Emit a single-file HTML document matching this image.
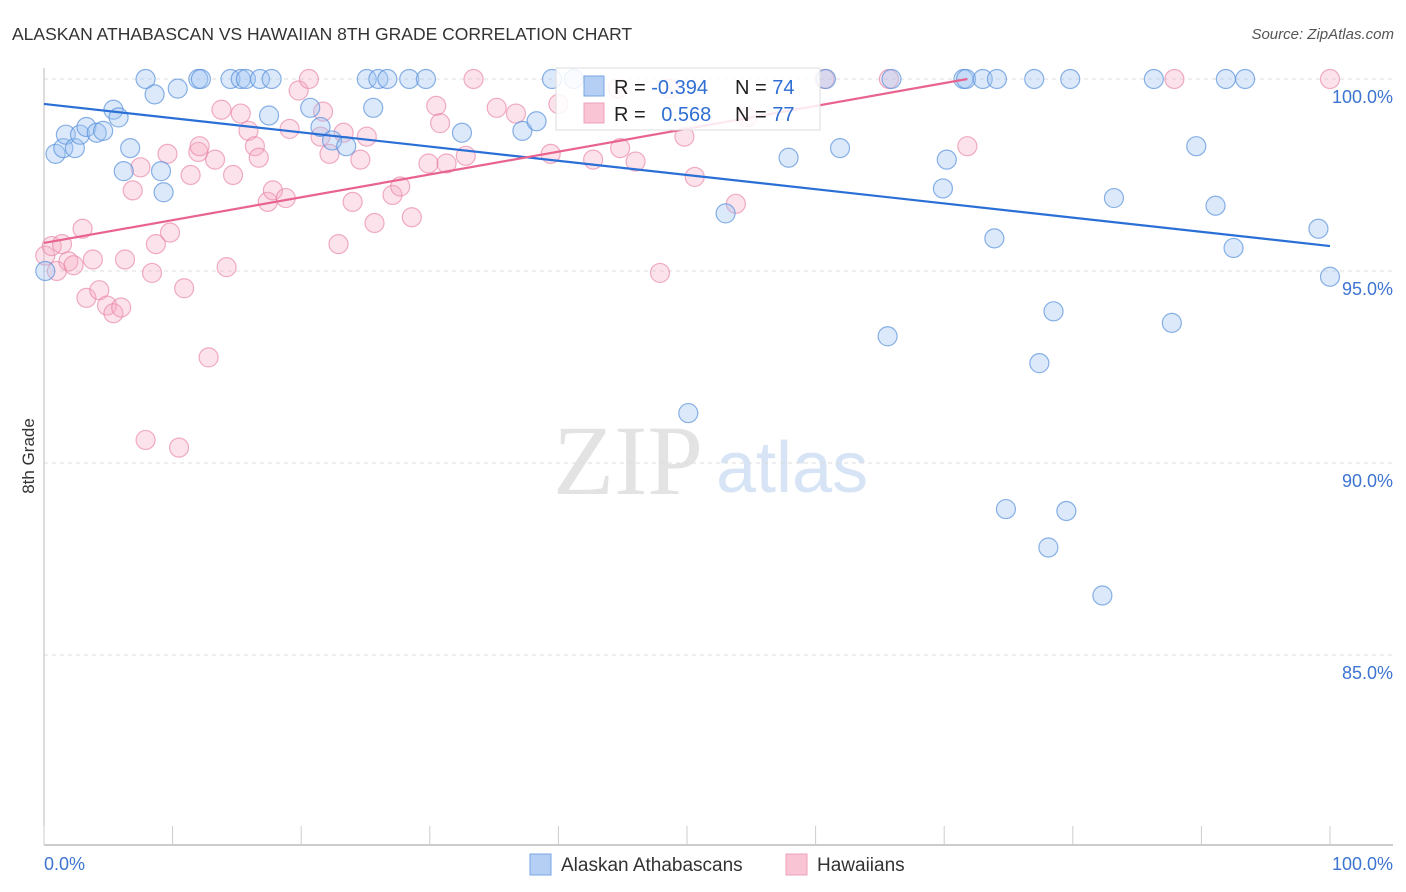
<!DOCTYPE html>
<html><head><meta charset="utf-8"><style>
body{margin:0;background:#fff;font-family:"Liberation Sans",sans-serif}
svg{display:block}
</style></head><body>
<svg id="chart" width="1406" height="892">
<text x="12" y="40" font-size="17.5" fill="#333">ALASKAN ATHABASCAN VS HAWAIIAN 8TH GRADE CORRELATION CHART</text>
<text x="1394" y="39" font-size="15" fill="#555" font-style="italic" text-anchor="end">Source: ZipAtlas.com</text>
<text x="34" y="456" font-size="17" fill="#333" text-anchor="middle" transform="rotate(-90 34 456)">8th Grade</text>
<g>
<text x="553" y="494" font-family="Liberation Serif,serif" font-size="100" fill="#e3e3e3">ZIP</text>
<text x="716" y="492" font-size="72" fill="#d6e4f5">atlas</text>
</g>
<g id="grid"></g><g id="axes"></g><g id="marks"></g>
<g>
<rect x="556" y="68" width="264" height="62" fill="#fff" fill-opacity="0.85" stroke="#ddd"/>
<rect x="584" y="76" width="20" height="20" fill="#b4cff3" stroke="#7aa6e4"/>
<rect x="584" y="103" width="20" height="20" fill="#f9c4d4" stroke="#eda1bb"/>
<text x="614" y="94" font-size="20" fill="#222">R = <tspan fill="#2f6ed3">-0.394</tspan></text>
<text x="735" y="94" font-size="20" fill="#222">N = <tspan fill="#2f6ed3">74</tspan></text>
<text x="614" y="121" font-size="20" fill="#222">R = <tspan fill="#2f6ed3" dx="10">0.568</tspan></text>
<text x="735" y="121" font-size="20" fill="#222">N = <tspan fill="#2f6ed3">77</tspan></text>
</g>
<g>
<rect x="530" y="854" width="21" height="21" fill="#b4cff3" stroke="#7aa6e4"/>
<text x="561" y="871" font-size="19" fill="#333">Alaskan Athabascans</text>
<rect x="786" y="854" width="21" height="21" fill="#f9c4d4" stroke="#eda1bb"/>
<text x="817" y="871" font-size="19" fill="#333">Hawaiians</text>
</g>
</svg>
<script>
const blueX=[0.1,0.9,1.5,1.7,2.4,2.8,3.3,4.1,4.6,5.4,5.8,6.2,6.7,7.9,8.6,9.1,9.3,10.4,12.0,12.2,14.5,15.3,15.7,16.8,17.7,17.5,20.7,21.5,22.4,23.5,25.1,26.0,26.7,25.6,28.4,29.7,32.5,37.2,38.3,39.5,41.2,53.0,57.9,60.8,61.9,65.6,69.9,70.2,71.5,71.7,73.0,74.1,73.9,77.0,78.5,79.8,77.4,83.2,86.3,87.7,89.6,91.1,91.9,92.5,93.4,99.1,100,50.1,74.8,79.5,78.1,82.3,65.9];
const blueY=[95.0,98.05,98.2,98.55,98.2,98.55,98.75,98.6,98.65,99.2,99.0,97.6,98.2,100,99.6,97.6,97.05,99.75,100,100,100,100,100,100,100,99.05,99.25,98.75,98.4,98.25,100,100,100,99.25,100,100,98.6,98.65,98.9,100,100,96.5,97.95,100,98.2,93.3,97.15,97.9,100,100,100,100,95.85,100,93.95,100,92.6,96.9,100,93.65,98.25,96.7,100,95.6,100,96.1,94.85,91.3,88.8,88.75,87.8,86.55,100];
const pinkX=[0.1,0.6,1.0,1.4,1.9,2.3,3.0,3.3,3.8,4.3,4.9,5.4,6.0,6.3,6.9,7.5,7.9,8.4,8.7,9.6,9.8,10.5,10.9,11.4,12.0,12.1,12.8,13.3,13.8,14.2,14.7,15.3,15.9,16.4,16.7,17.4,17.8,18.8,19.1,19.8,20.6,21.5,21.7,22.2,22.9,23.3,24.0,24.6,25.1,25.7,27.1,27.7,28.6,29.9,30.5,30.8,31.3,32.8,33.4,35.2,36.7,39.4,40.0,42.7,44.8,46.0,47.9,49.8,50.6,53.8,54.7,60.7,65.7,71.8,87.9,100,44.6,48.6];
const pinkY=[95.4,95.65,95.0,95.7,95.25,95.15,96.1,94.3,95.3,94.5,94.1,93.9,94.05,95.3,97.1,97.7,90.6,94.95,95.7,98.05,96.0,90.4,94.55,97.5,98.1,98.25,92.75,97.9,99.2,95.1,97.5,99.1,98.65,98.25,97.95,96.8,97.1,96.9,98.7,99.7,100,98.5,99.15,98.05,95.7,98.6,96.8,97.9,98.5,96.25,96.98,97.2,96.4,97.8,99.3,98.85,97.8,98.0,100,99.25,99.1,98.05,99.35,97.9,98.2,97.85,94.95,98.5,97.45,96.75,99.0,100,100,98.25,100,100,99.75,99.75];
const blueTrend=[[0,99.35],[100,95.65]];
const pinkTrend=[[0,95.73],[71.8,100]];
const yTicks=[100,95,90,85];
const yTickLabels=["100.0%","95.0%","90.0%","85.0%"];
const xTicks=[0,10,20,30,40,50,60,70,80,90,100];

const NS="http://www.w3.org/2000/svg";
const sx=v=>44+v*12.86;
const sy=v=>79+(100-v)*38.4;
function mk(tag,attrs,parent){const e=document.createElementNS(NS,tag);for(const k in attrs)e.setAttribute(k,attrs[k]);document.getElementById(parent).appendChild(e);return e;}

yTicks.forEach((t,i)=>{
 const g=mk('line',{x1:44,x2:1393,y1:sy(t),y2:sy(t),stroke:'#ddd','stroke-dasharray':'4,4'},'grid');
 
 
 const l=mk('text',{x:1393,y:sy(t)+24,'font-size':18,fill:'#3d74d1','text-anchor':'end'},'grid');
 l.textContent=yTickLabels[i];
 
 
});
let ax=mk('line',{x1:44,x2:44,y1:68,y2:845,stroke:'#bbb'},'axes');


ax=mk('line',{x1:44,x2:1393,y1:845,y2:845,stroke:'#bbb','stroke-width':1.5},'axes');


xTicks.forEach(t=>{
 const e=mk('line',{x1:sx(t),x2:sx(t),y1:826,y2:845,stroke:'#ccc'},'axes');
 
 
});
let xl=mk('text',{x:44,y:870,'font-size':18,fill:'#3d74d1'},'axes');xl.textContent='0.0%';


xl=mk('text',{x:1393,y:870,'font-size':18,fill:'#3d74d1','text-anchor':'end'},'axes');xl.textContent='100.0%';



pinkX.forEach((x,i)=>{
 const c=mk('circle',{cx:sx(x),cy:sy(pinkY[i]),r:9.5,fill:'rgba(246,168,194,0.32)',stroke:'rgba(232,130,166,0.65)','stroke-width':1.2},'marks');
 
 
});
blueX.forEach((x,i)=>{
 const c=mk('circle',{cx:sx(x),cy:sy(blueY[i]),r:9.5,fill:'rgba(160,196,242,0.38)',stroke:'rgba(90,145,220,0.7)','stroke-width':1.2},'marks');
 
 
});
let tl=mk('line',{x1:sx(blueTrend[0][0]),y1:sy(blueTrend[0][1]),x2:sx(blueTrend[1][0]),y2:sy(blueTrend[1][1]),stroke:'#2a6fd6','stroke-width':2.2},'marks');


tl=mk('line',{x1:sx(pinkTrend[0][0]),y1:sy(pinkTrend[0][1]),x2:sx(pinkTrend[1][0]),y2:sy(pinkTrend[1][1]),stroke:'#e8648f','stroke-width':2.2},'marks');


</script>
</body></html>
